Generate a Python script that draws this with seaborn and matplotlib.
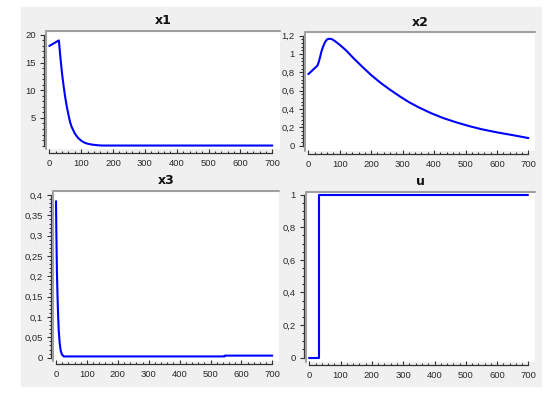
import numpy as np
import pandas as pd
import seaborn as sns
import matplotlib
matplotlib.use("Agg")
import matplotlib.pyplot as plt
from matplotlib.patches import Rectangle
from matplotlib.ticker import FixedLocator, FuncFormatter


# ==================================================
# Data
# ==================================================

t_x1 = [0, 30, 35, 40, 45, 50, 55, 60, 65, 70, 80, 90, 100, 110, 120, 135, 150, 165, 700]
x1 = [18, 19, 15.8, 13.0, 10.7, 8.7, 7.0, 5.6, 4.3, 3.4, 2.2, 1.4, 0.9, 0.55, 0.35, 0.18, 0.08, 0.02, 0.02]

t_x2 = [0, 29, 33, 37, 42, 48, 54, 60, 67, 75, 85, 100, 120, 145, 175, 200, 230, 260,
        290, 320, 350, 390, 430, 470, 510, 550, 600, 650, 700]
x2 = [0.78, 0.873, 0.91, 0.96, 1.03, 1.09, 1.135, 1.16, 1.167, 1.162, 1.14, 1.10, 1.04,
      0.95, 0.85, 0.77, 0.685, 0.61, 0.54, 0.475, 0.42, 0.355, 0.30, 0.255, 0.215, 0.18,
      0.145, 0.115, 0.083]

t_x3 = [0, 1, 3, 5, 7, 9, 12, 15, 19, 25, 545, 546, 700]
x3 = [0.385, 0.317, 0.21, 0.15, 0.10, 0.065, 0.035, 0.018, 0.008, 0.003, 0.003, 0.005, 0.005]

t_u = [0, 30, 30, 700]
u = [0, 0, 1, 1]

titles = ["x1", "x2", "x3", "u"]


# ==================================================
# Style
# ==================================================

sns.set_style("white")
plt.rcParams["font.family"] = ["Liberation Sans", "DejaVu Sans"]

W, H = 560, 396
LINE_BLUE = "#0000ff"
AXIS_GREY = "#333333"
FRAME_GREY = "#a0a0a0"


def px_box(x0, y0, x1_, y1_):
    return [x0 / W, 1 - y1_ / H, (x1_ - x0) / W, (y1_ - y0) / H]


fig = plt.figure(figsize=(W / 100, H / 100), dpi=100)
fig.patch.set_facecolor("white")
fig.add_artist(Rectangle((21 / W, 1 - 386 / H), 520 / W, 379 / H,
                         transform=fig.transFigure, color="#f0f0f0", zorder=0))

panels = [
    dict(box=px_box(46, 31, 280, 149.3), t=t_x1, v=x1, xlim=(-10.4, 724), ylim=(-0.66, 20.7),
         ybounds=(0, 20), major=[5, 10, 15, 20], minor=np.arange(0, 20.01, 1)),
    dict(box=px_box(305, 32, 535, 150.7), t=t_x2, v=x2, xlim=(-10.5, 721), ylim=(-0.055, 1.24),
         ybounds=(0, 1.2), major=np.arange(0, 1.21, 0.2), minor=np.arange(0, 1.201, 0.04)),
    dict(box=px_box(53, 191, 279, 360.5), t=t_x3, v=x3, xlim=(-9.7, 721.6), ylim=(-0.007, 0.41),
         ybounds=(0, 0.4), major=np.arange(0, 0.401, 0.05), minor=np.arange(0, 0.4001, 0.01)),
    dict(box=px_box(306, 191.7, 535, 361.7), t=t_u, v=u, xlim=(-10.5, 721), ylim=(-0.025, 1.018),
         ybounds=(0, 1), major=np.arange(0, 1.01, 0.2), minor=np.arange(0, 1.001, 0.05)),
]

comma = FuncFormatter(lambda val, pos: f"{val:.10g}".replace(".", ","))


for title, p in zip(titles, panels):

    ax = fig.add_axes(p["box"])
    ax.set_facecolor("white")

    df = pd.DataFrame({"t": p["t"], "v": p["v"]})
    sns.lineplot(data=df, x="t", y="v", ax=ax, color=LINE_BLUE, linewidth=1.5,
                 estimator=None, sort=False)

    ax.set_xlim(*p["xlim"])
    ax.set_ylim(*p["ylim"])
    ax.set_xlabel("")
    ax.set_ylabel("")

    # axes lines
    for side in ["top", "right"]:
        ax.spines[side].set_visible(False)
    ax.spines["left"].set_position(("outward", 1.5))
    ax.spines["bottom"].set_position(("outward", 2.4))
    ax.spines["left"].set_bounds(*p["ybounds"])
    ax.spines["bottom"].set_bounds(0, 700)
    for side in ["left", "bottom"]:
        ax.spines[side].set_color(AXIS_GREY)
        ax.spines[side].set_linewidth(0.9)

    # grey inset edge on top and left of the white area
    ax.plot([0, 0, 1], [0, 1, 1], transform=ax.transAxes, color=FRAME_GREY,
            linewidth=1.5, clip_on=False, zorder=5)

    # ticks
    ax.xaxis.set_major_locator(FixedLocator(np.arange(0, 701, 100)))
    ax.xaxis.set_minor_locator(FixedLocator(np.arange(0, 701, 20)))
    ax.yaxis.set_major_locator(FixedLocator(p["major"]))
    ax.yaxis.set_minor_locator(FixedLocator(p["minor"]))
    ax.yaxis.set_major_formatter(comma)

    ax.tick_params(axis="x", which="both", direction="in", bottom=True, color=AXIS_GREY,
                   labelsize=6.8, labelcolor="#2a2a2a", pad=4.5)
    ax.tick_params(axis="y", which="both", direction="out", left=True, color=AXIS_GREY,
                   labelsize=6.8, labelcolor="#2a2a2a", pad=2.5)
    ax.tick_params(which="major", length=3.2, width=0.8)
    ax.tick_params(which="minor", length=1.8, width=0.8)

    ax.annotate(title, xy=(0.5, 1), xycoords="axes fraction", xytext=(0, 7.2),
                textcoords="offset points", ha="center", va="center",
                fontsize=9, fontweight="bold", family=["DejaVu Sans"], color="#111111")


plt.savefig("out.png", dpi=100)
plt.close()
